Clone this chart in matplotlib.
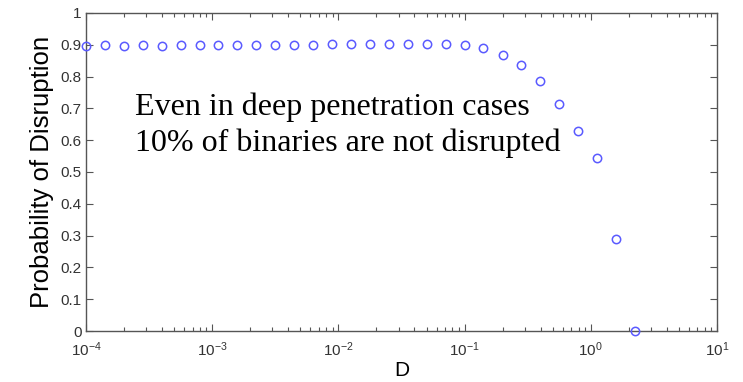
#!/usr/bin/env python3
# -*- coding: utf-8 -*-
"""
Disruption probability of binaries versus penetration depth D
"""
import numpy as np
import matplotlib as mpl
mpl.use('Agg')
import matplotlib.pyplot as plt
from matplotlib.ticker import LogLocator, FormatStrFormatter, FixedLocator

plt.rcParams['font.family'] = 'sans-serif'
plt.rcParams['font.sans-serif'] = ['Liberation Sans', 'DejaVu Sans']
plt.rcParams['mathtext.default'] = 'regular'

#%% >>>>> data >>>>>
D = [1.0e-4, 1.41e-4, 2.0e-4, 2.82e-4, 3.98e-4, 5.62e-4, 7.94e-4,
     1.12e-3, 1.58e-3, 2.24e-3, 3.16e-3, 4.47e-3, 6.31e-3, 8.91e-3,
     1.26e-2, 1.78e-2, 2.51e-2, 3.55e-2, 5.01e-2, 7.08e-2, 1.0e-1,
     0.141, 0.200, 0.282, 0.398, 0.562, 0.794, 1.12, 1.58, 2.24]
P_disrupt = [0.896, 0.898, 0.895, 0.898, 0.895, 0.898, 0.898, 0.899,
             0.899, 0.898, 0.898, 0.899, 0.899, 0.901, 0.903, 0.903,
             0.904, 0.904, 0.903, 0.901, 0.898, 0.890, 0.868, 0.836,
             0.786, 0.715, 0.630, 0.543, 0.288, 0.0]
y_ticks = [0, 0.1, 0.2, 0.3, 0.4, 0.5, 0.6, 0.7, 0.8, 0.9, 1]
note = ['Even in deep penetration cases', '10% of binaries are not disrupted']
# <<<<< data <<<<<

fig = plt.figure(figsize=(7.43, 3.82), dpi=100)
ax = fig.add_axes([0.1157, 0.1335, 0.8493, 0.8325])

ax.plot(D, P_disrupt, 'o', mfc='none', mec='#5a5aff', ms=6, mew=1.1,
        clip_on=False, zorder=5)

ax.set_xscale('log')
ax.set_xlim(1e-4, 1e1)
ax.set_ylim(0, 1)
ax.yaxis.set_major_locator(FixedLocator(y_ticks))
ax.yaxis.set_major_formatter(FormatStrFormatter('%g'))
ax.xaxis.set_major_locator(LogLocator(base=10, numticks=10))
ax.xaxis.set_minor_locator(LogLocator(base=10, subs=np.arange(2, 10), numticks=10))

for loc, spine in ax.spines.items():
    spine.set_color('#555555')
    spine.set_linewidth(1.0)
ax.tick_params(which='both', direction='in', top=True, right=True,
               colors='#555555', labelcolor='#333333', labelsize=11)
ax.tick_params(which='major', length=5, width=0.8)
ax.tick_params(which='minor', length=3, width=0.8)
ax.tick_params(axis='x', pad=7)
ax.tick_params(axis='y', pad=3)

ax.set_xlabel('D', fontsize=15, labelpad=1)
ax.set_ylabel('Probability of Disruption', fontsize=18.5, labelpad=5)

# annotation in serif type
ax.text(0.0777, 0.679, note[0], transform=ax.transAxes, fontsize=23,
        family='Liberation Serif', va='baseline', ha='left')
ax.text(0.0777, 0.566, note[1], transform=ax.transAxes, fontsize=23,
        family='Liberation Serif', va='baseline', ha='left')

fig.savefig('out.png', dpi=100, facecolor='white')
